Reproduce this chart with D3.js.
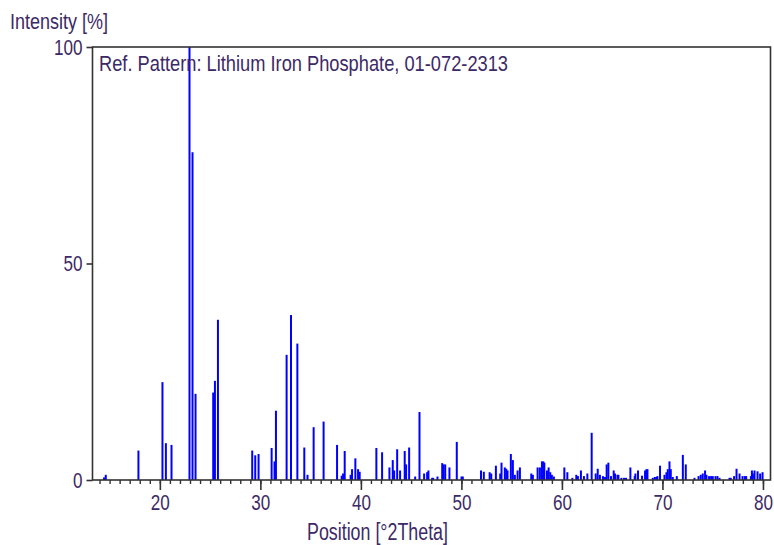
<!DOCTYPE html>
<html>
<head>
<meta charset="utf-8">
<script src="https://cdn.jsdelivr.net/npm/d3@7"></script>
<style>
  html, body { margin: 0; padding: 0; background: #ffffff; }
  svg { display: block; }
  text { font-family: "Liberation Sans", Arial, sans-serif; fill: #3c2a66; }
</style>
</head>
<body>
<svg id="chart" width="774" height="545"></svg>
<script>
// Reference pattern: peak positions (°2θ) and relative intensities (%)
const positions = [
  14.45, 14.62, 17.87, 20.26, 20.60, 21.16, 22.95, 23.25, 23.55, 25.31,
  25.48, 25.78, 29.19, 29.49, 29.82, 31.12, 31.41, 31.55, 32.61, 33.05,
  33.68, 34.37, 34.69, 35.30, 36.29, 37.63, 38.09, 38.23, 38.39, 38.98,
  39.12, 39.45, 39.72, 39.88, 41.54, 42.11, 42.84, 43.17, 43.31, 43.61,
  43.90, 44.36, 44.50, 44.80, 45.40, 45.83, 46.29, 46.59, 46.72, 47.09,
  47.19, 47.62, 48.09, 48.22, 48.39, 48.81, 49.54, 50.01, 50.14, 51.95,
  52.23, 52.81, 52.97, 53.43, 53.86, 53.99, 54.32, 54.46, 54.59, 54.92,
  55.12, 55.32, 55.59, 55.82, 56.95, 57.11, 57.58, 57.81, 58.01, 58.15,
  58.25, 58.51, 58.68, 58.84, 59.00, 59.20, 60.24, 60.54, 61.04, 61.43,
  61.59, 61.89, 62.19, 62.53, 62.96, 63.36, 63.56, 63.78, 64.08, 64.28,
  64.45, 64.62, 64.88, 65.15, 65.28, 65.52, 65.62, 65.92, 66.18, 66.38,
  66.81, 67.24, 67.31, 67.57, 67.97, 68.27, 68.41, 68.51, 69.04, 69.24,
  69.40, 69.50, 69.76, 70.20, 70.40, 70.53, 70.70, 70.83, 71.03, 71.43,
  72.03, 72.32, 73.19, 73.59, 73.81, 74.01, 74.24, 74.38, 74.64, 74.84,
  75.01, 75.28, 75.48, 75.68, 76.67, 76.80, 77.13, 77.37, 77.67, 77.97,
  78.20, 78.33, 78.80, 78.90, 79.00, 79.16, 79.46, 79.72, 79.96
];
const intensities = [
  0.6, 1.2, 6.8, 22.6, 8.5, 8.1, 100, 75.7, 19.9, 20.2,
  22.9, 37.0, 6.8, 5.7, 6.0, 7.4, 4.3, 16.0, 28.9, 38.1,
  31.5, 7.5, 1.2, 12.2, 13.5, 8.1, 1.0, 1.5, 6.7, 1.2,
  2.5, 5.0, 2.5, 1.9, 7.4, 6.4, 2.9, 4.6, 2.2, 7.1,
  2.2, 6.7, 3.6, 7.5, 0.8, 15.7, 1.5, 1.8, 2.2, 0.5,
  0.5, 0.8, 3.9, 3.6, 3.6, 2.9, 8.8, 0.8, 0.8, 2.2,
  1.9, 1.8, 1.5, 3.3, 1.5, 4.0, 2.9, 2.6, 2.2, 6.0,
  4.6, 1.2, 2.2, 2.9, 1.5, 1.2, 2.9, 2.9, 4.3, 4.3,
  4.0, 2.2, 2.9, 1.8, 1.2, 0.8, 2.9, 1.8, 0.5, 1.2,
  0.9, 2.2, 0.9, 1.5, 10.9, 1.5, 2.6, 1.2, 0.9, 0.7,
  3.6, 4.0, 0.9, 2.2, 1.5, 1.2, 1.2, 0.5, 0.5, 0.5,
  2.9, 0.9, 1.5, 2.2, 1.0, 2.2, 2.5, 2.5, 0.5, 0.7,
  0.7, 0.9, 3.3, 1.2, 1.8, 2.5, 4.3, 2.5, 0.7, 0.9,
  5.8, 3.6, 0.5, 0.9, 1.2, 1.5, 2.2, 1.2, 0.9, 0.9,
  0.9, 0.9, 0.9, 0.5, 0.5, 0.5, 0.9, 2.6, 1.5, 0.9,
  0.9, 0.9, 0.9, 2.2, 1.5, 2.2, 2.0, 1.5, 1.8
];
const xMajorTicks = [20, 30, 40, 50, 60, 70, 80];
const xMinorTicks = d3.range(14, 81, 1);
const yTicks = [0, 50, 100];
const xDomain = [13.3, 80.75];
const yDomain = [0, 100];

const peaks = positions.map((p, i) => ({ pos: p, val: intensities[i] }));

const svg = d3.select("#chart");
const plot = { left: 92.5, right: 770.5, top: 47, bottom: 480 };
const labelFont = 22;

const x = d3.scaleLinear().domain(xDomain).range([plot.left, plot.right]);
const y = d3.scaleLinear().domain(yDomain).range([plot.bottom, plot.top]);

// Narrow-looking numerals: fixed advance per digit
function condense(sel) {
  sel.attr("font-size", labelFont)
    .attr("textLength", function () { return this.textContent.length * 9.5; })
    .attr("lengthAdjust", "spacingAndGlyphs")
    .attr("fill", "#3c2a66");
}

// Stick pattern
svg.append("g")
  .selectAll("line")
  .data(peaks)
  .join("line")
  .attr("x1", d => x(d.pos))
  .attr("x2", d => x(d.pos))
  .attr("y1", y(0))
  .attr("y2", d => y(d.val))
  .attr("stroke", "#0000ff")
  .attr("stroke-width", 2);

// Frame
svg.append("rect")
  .attr("x", plot.left)
  .attr("y", plot.top)
  .attr("width", plot.right - plot.left)
  .attr("height", plot.bottom - plot.top)
  .attr("fill", "none")
  .attr("stroke", "#333333")
  .attr("stroke-width", 1.6);

// X axis: minor ticks every degree, labelled majors every ten
const xMinor = svg.append("g")
  .attr("transform", `translate(0,${plot.bottom})`)
  .call(d3.axisBottom(x).tickValues(xMinorTicks).tickSize(4).tickFormat(""));
xMinor.select(".domain").remove();
xMinor.selectAll("line").attr("stroke", "#333333").attr("stroke-width", 1.4);

const xMajor = svg.append("g")
  .attr("transform", `translate(0,${plot.bottom})`)
  .call(d3.axisBottom(x).tickValues(xMajorTicks).tickSize(10).tickPadding(4).tickFormat(d3.format("d")));
xMajor.select(".domain").remove();
xMajor.selectAll("line").attr("stroke", "#333333").attr("stroke-width", 1.6);
xMajor.selectAll("text").call(condense);

// Y axis
const yAxis = svg.append("g")
  .attr("transform", `translate(${plot.left},0)`)
  .call(d3.axisLeft(y).tickValues(yTicks).tickSize(6).tickPadding(4).tickFormat(d3.format("d")));
yAxis.select(".domain").remove();
yAxis.selectAll("line").attr("stroke", "#333333").attr("stroke-width", 1.6);
yAxis.selectAll("text").call(condense);

// Titles
svg.append("text")
  .attr("x", 10)
  .attr("y", 29)
  .attr("font-size", 22)
  .attr("textLength", 98)
  .attr("lengthAdjust", "spacingAndGlyphs")
  .text("Intensity [%]");

svg.append("text")
  .attr("x", 99)
  .attr("y", 71)
  .attr("font-size", 22)
  .attr("textLength", 409)
  .attr("lengthAdjust", "spacingAndGlyphs")
  .text("Ref. Pattern: Lithium Iron Phosphate, 01-072-2313");

svg.append("text")
  .attr("x", 307)
  .attr("y", 540)
  .attr("font-size", 23)
  .attr("textLength", 141)
  .attr("lengthAdjust", "spacingAndGlyphs")
  .text("Position [°2Theta]");
</script>
</body>
</html>
